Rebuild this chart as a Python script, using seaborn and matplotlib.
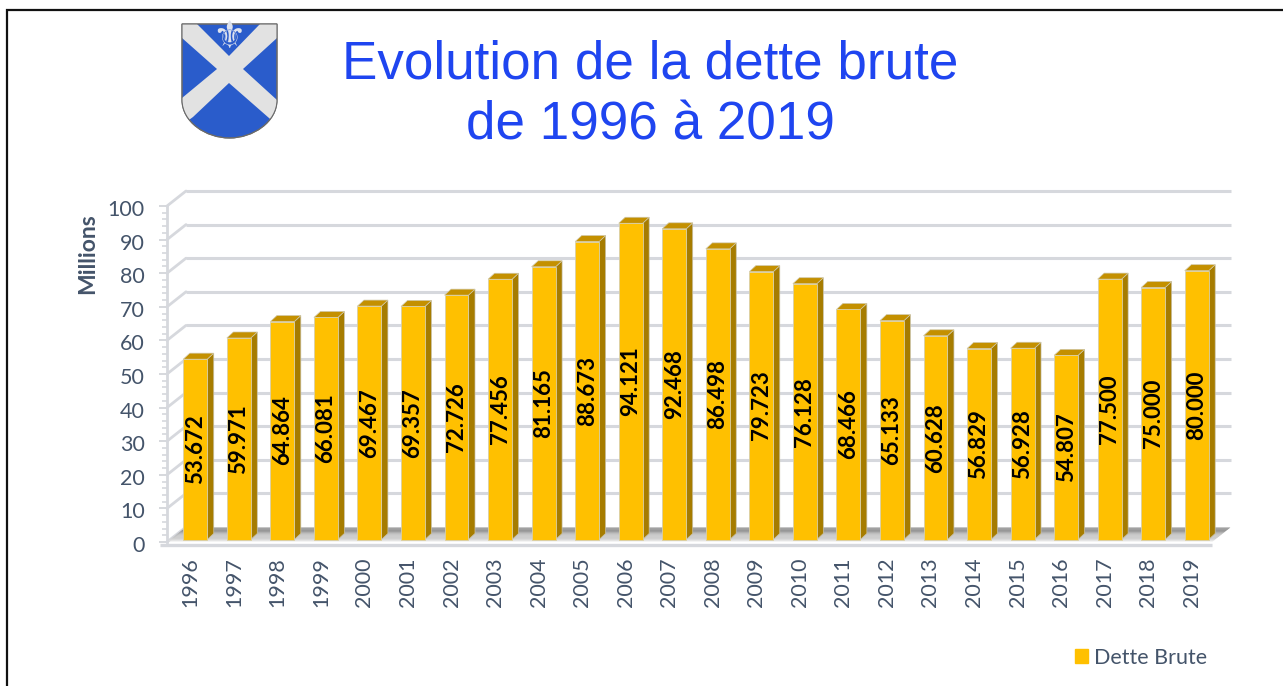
import numpy as np
import pandas as pd
import matplotlib
matplotlib.use('Agg')
import matplotlib.pyplot as plt
import seaborn as sns
from matplotlib.patches import Polygon, PathPatch, Patch
from matplotlib.path import Path
from matplotlib.ticker import MultipleLocator
from matplotlib.transforms import Affine2D

# donnees
annees = ['1996', '1997', '1998', '1999', '2000', '2001', '2002', '2003', '2004', '2005', '2006', '2007',
          '2008', '2009', '2010', '2011', '2012', '2013', '2014', '2015', '2016', '2017', '2018', '2019']
dette = [53.672, 59.971, 64.864, 66.081, 69.467, 69.357, 72.726, 77.456, 81.165, 88.673, 94.121, 92.468,
         86.498, 79.723, 76.128, 68.466, 65.133, 60.628, 56.829, 56.928, 54.807, 77.500, 75.000, 80.000]
etiquettes = ['53.672', '59.971', '64.864', '66.081', '69.467', '69.357', '72.726', '77.456', '81.165', '88.673',
              '94.121', '92.468', '86.498', '79.723', '76.128', '68.466', '65.133', '60.628', '56.829', '56.928',
              '54.807', '77.500', '75.000', '80.000']
graduations = [0, 10, 20, 30, 40, 50, 60, 70, 80, 90, 100]

W, H = 1283, 686
BLEU_TEXTE = '#44546A'
GRILLE = '#D6D8DD'

sns.set_theme(style='white')
plt.rcParams['font.family'] = ['Lato', 'DejaVu Sans']

fig = plt.figure(figsize=(W / 100, H / 100), dpi=100, facecolor='white')
ax = fig.add_axes([167 / W, (H - 542) / H, (1212 - 167) / W, (542 - 206) / H])

df = pd.DataFrame({'annee': annees, 'dette': dette})
sns.barplot(data=df, x='annee', y='dette', color='#FFC000', saturation=1, width=0.55, ax=ax, zorder=5)
ax.set_xlim(-0.5, 23.5)
ax.set_ylim(0, 100)

# echelle px -> unites pour l'effet 3D
px_x = 24 / 1045
px_y = 100 / 336
prof_x, prof_y = 19 * px_x, 15 * px_y

# murs / grille en profondeur
for g in graduations[1:]:
    ax.plot([-0.5 + prof_x, 23.5 + prof_x], [g + prof_y, g + prof_y], color=GRILLE, lw=2.2,
            clip_on=False, zorder=1, solid_capstyle='butt')
    ax.plot([-0.5, -0.5 + prof_x], [g, g + prof_y], color=GRILLE, lw=2.0, clip_on=False, zorder=1)
ax.plot([-0.5, -0.5 + prof_x], [0, prof_y], color=GRILLE, lw=2.0, clip_on=False, zorder=1)

# sol ombre
nb = 12
gris = np.linspace(0.52, 0.88, nb)
for i in range(nb):
    h1 = prof_y * (1 - i / nb) * 0.92 + 0.2
    h2 = prof_y * (1 - (i + 1) / nb) * 0.92 + 0.2
    x1 = h1 / prof_y * prof_x
    x2 = h2 / prof_y * prof_x
    ax.add_patch(Polygon([[-0.5 + x1, h1], [23.5 + x1, h1], [23.5 + x2, h2], [-0.5 + x2, h2]],
                         closed=True, fc=str(gris[i]), ec='none', clip_on=False, zorder=2))
ax.plot([-0.5 - 7 * px_x, 23.5], [-3 * px_y, -3 * px_y], color=GRILLE, lw=2.4, clip_on=False, zorder=2,
        solid_capstyle='butt')

# faces 3D des barres
decale = ax.transData + Affine2D().translate(6.5, 2.5)
bx, by = 6.5 * px_x, 6 * px_y
for p, lab in zip(ax.patches, etiquettes):
    x0, w, v = p.get_x(), p.get_width(), p.get_height()
    p.set_transform(decale)
    p.set_edgecolor('#D8CFA8')
    p.set_linewidth(0.6)
    ax.add_patch(Polygon([[x0 + w, 0], [x0 + w + bx, by], [x0 + w + bx, v + by], [x0 + w, v]], closed=True,
                         fc='#A67C00', ec='#C9C2A8', lw=0.5, transform=decale, clip_on=False, zorder=4))
    ax.add_patch(Polygon([[x0, v], [x0 + bx, v + by], [x0 + w + bx, v + by], [x0 + w, v]], closed=True,
                         fc='#C49000', ec='#D0C8A8', lw=0.5, transform=decale, clip_on=False, zorder=4))
    ax.text(x0 + w / 2, v / 2, lab, rotation=90, ha='center', va='center', fontsize=16, fontweight='bold',
            color='black', transform=decale, zorder=6, clip_on=False)

# axes
sns.despine(ax=ax, top=True, right=True, bottom=True)
ax.spines['left'].set_color(GRILLE)
ax.spines['left'].set_linewidth(2.0)
ax.set_yticks(graduations)
ax.yaxis.set_minor_locator(MultipleLocator(2))
ax.tick_params(axis='y', which='major', left=True, length=6, width=1.4, color=GRILLE, labelsize=15.5,
               labelcolor=BLEU_TEXTE, pad=10)
ax.tick_params(axis='y', which='minor', left=True, length=3.5, width=1.2, color=GRILLE)
ax.tick_params(axis='x', which='major', bottom=False, labelsize=15.5, labelcolor=BLEU_TEXTE, pad=5,
               labelrotation=90)
for lab in ax.get_yticklabels():
    lab.set_transform(lab.get_transform() + Affine2D().translate(0, -2))
for lab in ax.get_xticklabels():
    lab.set_transform(lab.get_transform() + Affine2D().translate(1.5, 0))
ax.set_xlabel('')
ax.set_ylabel('Millions', fontsize=16.5, fontweight='bold', color=BLEU_TEXTE)
ax.yaxis.set_label_coords(-0.066, 0.857)
ax.patch.set_alpha(0)

ax.legend(handles=[Patch(color='#FFC000', label='Dette Brute')], loc='center left', frameon=False,
          bbox_to_anchor=(1075 / W, (H - 658) / H), bbox_transform=fig.transFigure, fontsize=15.5,
          handlelength=0.62, handleheight=0.62, handletextpad=0.27, borderpad=0, borderaxespad=0, labelcolor=BLEU_TEXTE)

# calque en pixels : cadre, titre, blason
cal = fig.add_axes([0, 0, 1, 1], zorder=10)
cal.set_xlim(0, W)
cal.set_ylim(H, 0)
cal.axis('off')
cal.patch.set_alpha(0)
cal.plot([7, 7, W], [H, 9.5, 9.5], color='#111111', lw=1.6, solid_joinstyle='miter')

cal.text(650, 95, 'Evolution de la dette brute\nde 1996 à 2019', ha='center', va='center', fontsize=38.2,
         color='#1F45F0', family='Liberation Sans', linespacing=1.27)

contour = Path([(182, 24), (277, 24), (277, 100), (277, 122), (253, 138), (229.5, 138), (206, 138), (182, 122),
                (182, 100), (182, 24)],
               [Path.MOVETO, Path.LINETO, Path.LINETO, Path.CURVE4, Path.CURVE4, Path.CURVE4, Path.CURVE4,
                Path.CURVE4, Path.CURVE4, Path.CLOSEPOLY])
blason = PathPatch(contour, fc='#2A5CCB', ec='#6A6A6A', lw=0.8, zorder=2)
cal.add_patch(blason)
croix = Polygon([(182, 24), (197, 24), (229, 56), (260, 24), (277, 24), (277, 38), (243, 69), (277, 100),
                 (277, 125), (269, 118), (229, 83), (193, 117), (182, 125), (182, 98), (217, 69), (182, 38)],
                closed=True, fc='#E2E2E2', ec='none', zorder=3)
cal.add_patch(croix)
croix.set_clip_path(contour, cal.transData)
cal.add_patch(PathPatch(contour, fc='none', ec='#6A6A6A', lw=0.8, zorder=4))
cal.text(229, 38, '\u269c', ha='center', va='center', fontsize=27, color='#DDE2EE', family='DejaVu Sans', zorder=5)

fig.savefig('out.png', dpi=100)
